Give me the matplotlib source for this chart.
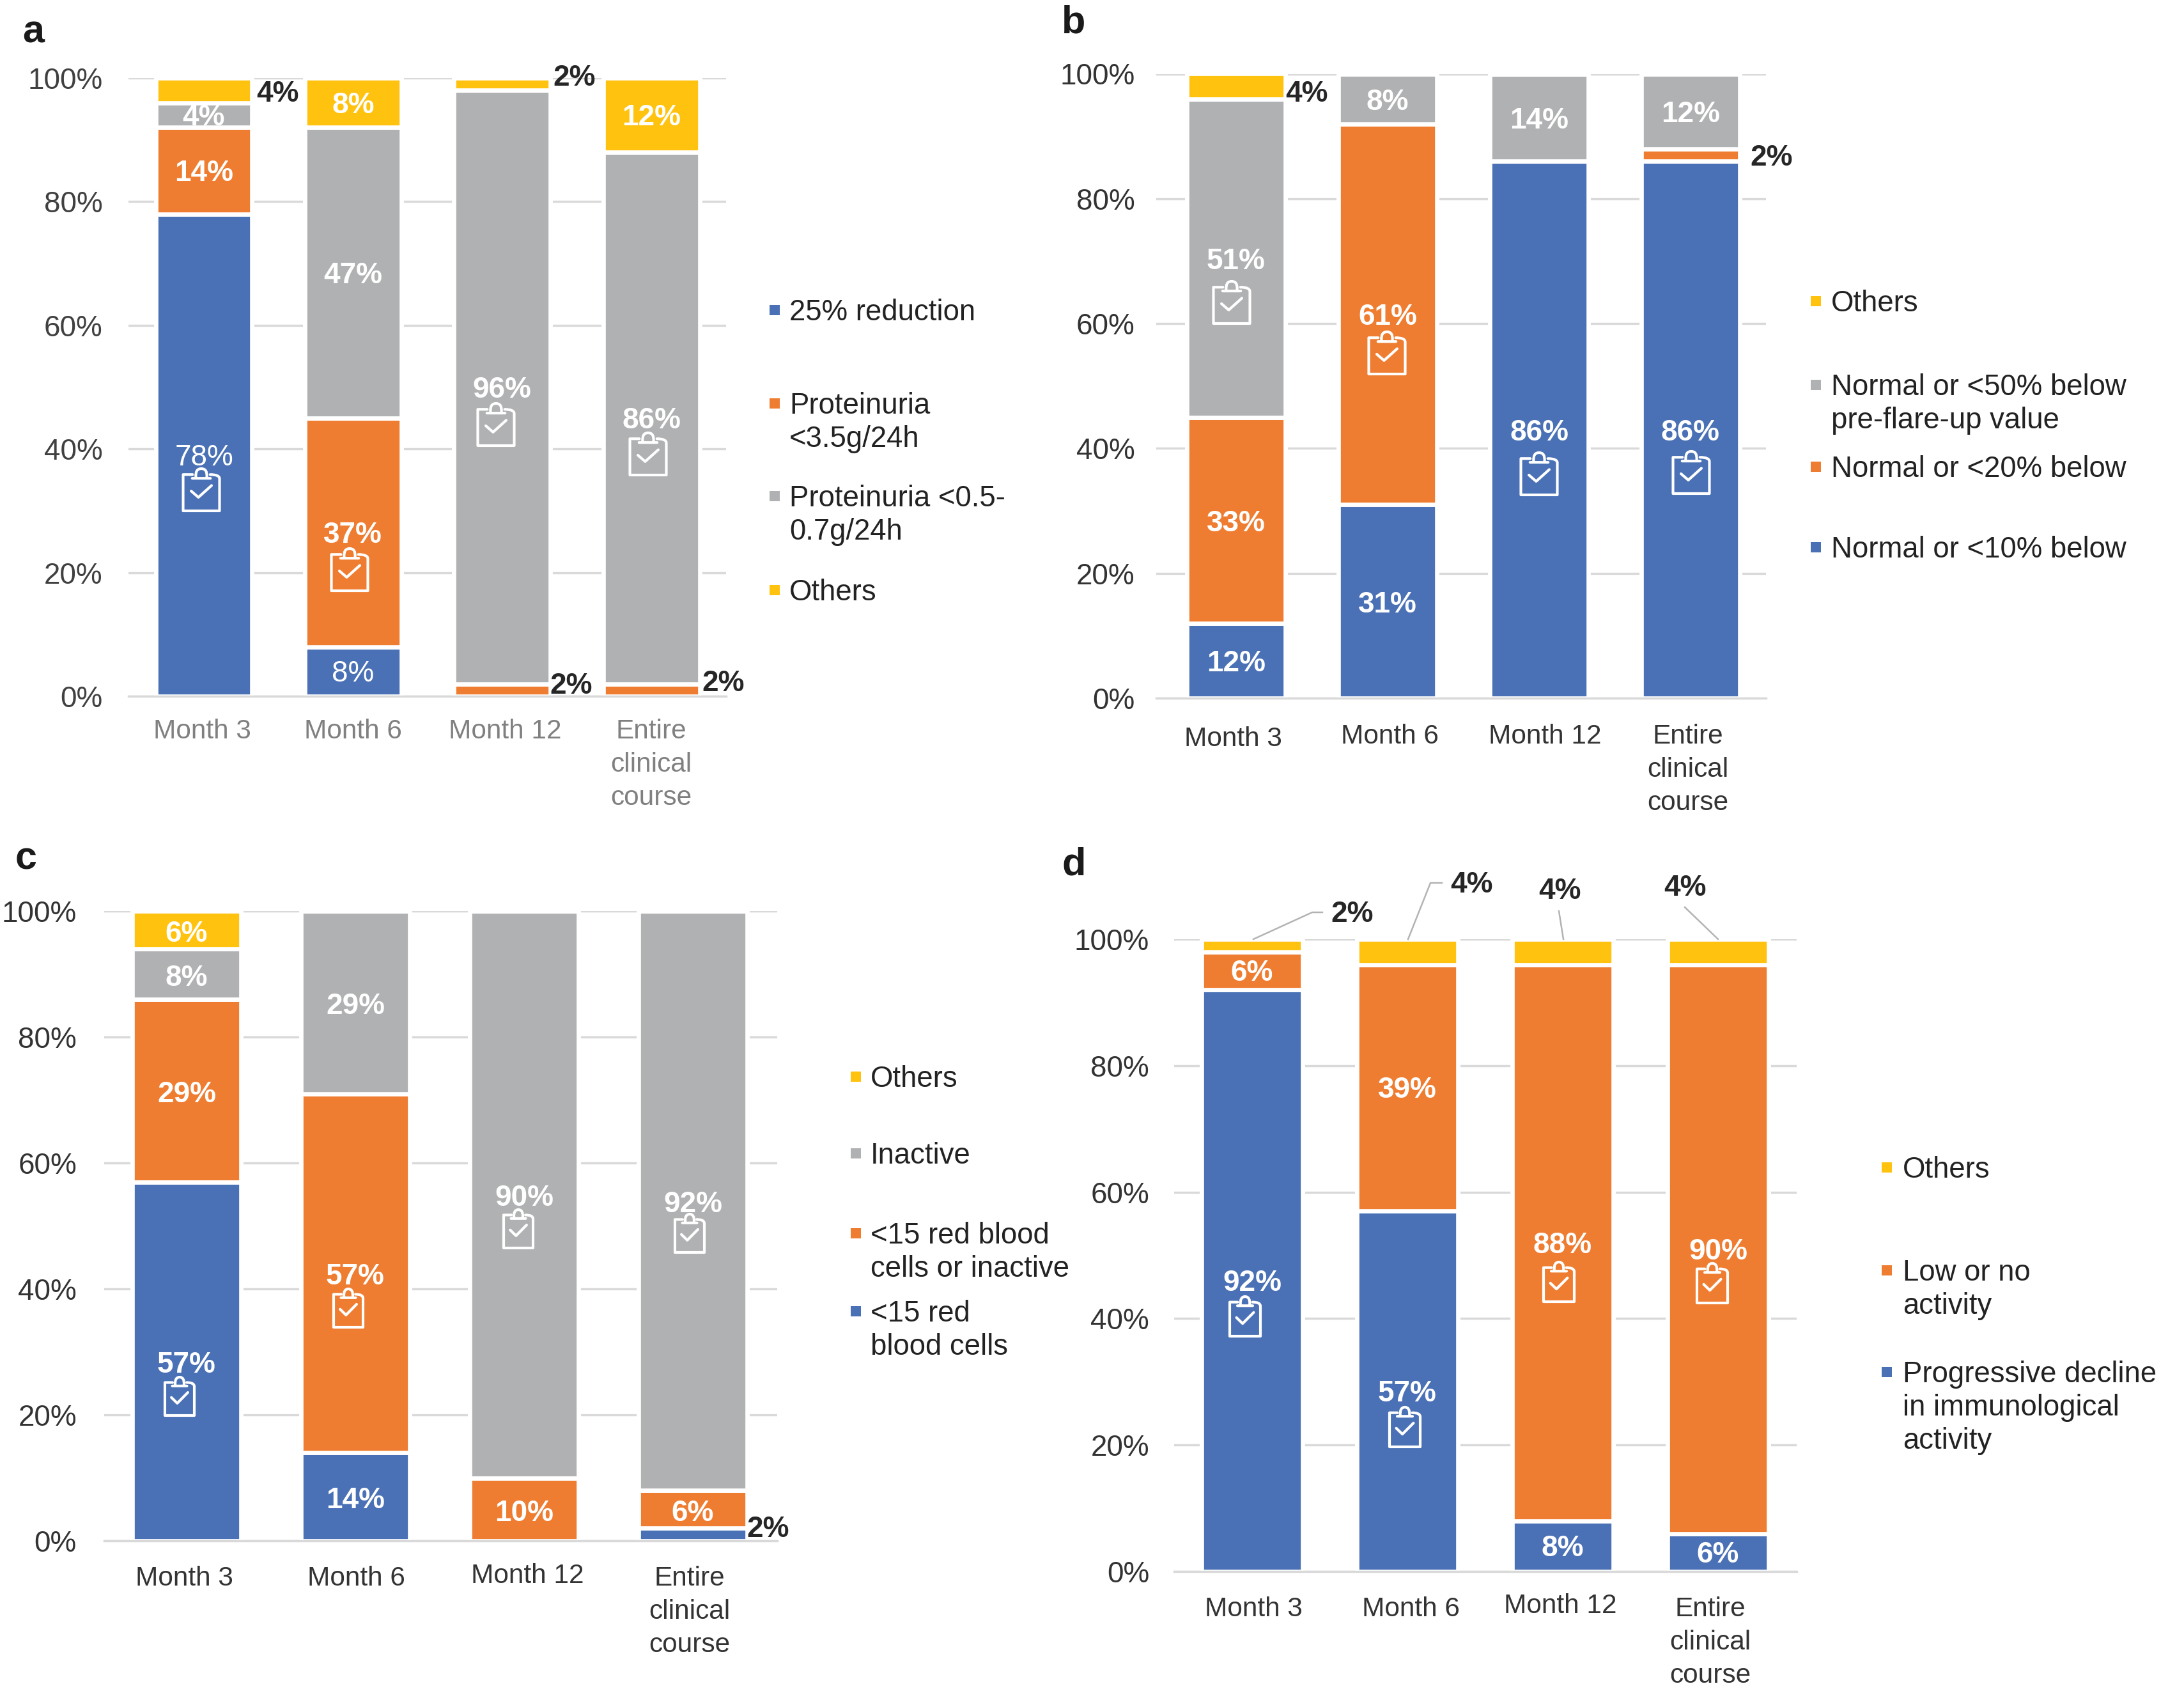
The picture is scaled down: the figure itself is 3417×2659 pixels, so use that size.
import numpy as np
import matplotlib
matplotlib.use("Agg")
import matplotlib.pyplot as plt
from matplotlib.lines import Line2D
from matplotlib.patches import PathPatch, Rectangle
from matplotlib.path import Path
from matplotlib.transforms import Affine2D, IdentityTransform

plt.rcParams['font.family'] = ['Liberation Sans', 'DejaVu Sans']

W, H = 3417, 2659
BLUE, ORANGE, GRAY, YELLOW = '#4A71B5', '#EF7D31', '#B0B1B3', '#FFC20E'
SERIES_COLORS = [BLUE, ORANGE, GRAY, YELLOW]

categories = ['Month 3', 'Month 6', 'Month 12', 'Entire\nclinical\ncourse']
y_ticks = [0, 20, 40, 60, 80, 100]
y_tick_labels = ['0%', '20%', '40%', '60%', '80%', '100%']

# percent of patients, series order is blue, orange, gray, yellow
a_blue = [78, 8, 0, 0]
a_orange = [14, 37, 2, 2]
a_gray = [4, 47, 96, 86]
a_yellow = [4, 8, 2, 12]

b_blue = [12, 31, 86, 86]
b_orange = [33, 61, 0, 2]
b_gray = [51, 8, 14, 12]
b_yellow = [4, 0, 0, 0]

c_blue = [57, 14, 0, 2]
c_orange = [29, 57, 10, 6]
c_gray = [8, 29, 90, 92]
c_yellow = [6, 0, 0, 0]

d_blue = [92, 57, 8, 6]
d_orange = [6, 39, 88, 90]
d_gray = [0, 0, 0, 0]
d_yellow = [2, 4, 4, 4]

a_legend = ['25% reduction', 'Proteinuria\n<3.5g/24h', 'Proteinuria <0.5-\n0.7g/24h', 'Others']
b_legend = ['Others', 'Normal or <50% below\npre-flare-up value', 'Normal or <20% below', 'Normal or <10% below']
c_legend = ['Others', 'Inactive', '<15 red blood\ncells or inactive', '<15 red\nblood cells']
d_legend = ['Others', 'Low or no\nactivity', 'Progressive decline\nin immunological\nactivity']

fig = plt.figure(figsize=(W / 100, H / 100), dpi=100, facecolor='white')


def clipboard(cx, cy, w, h):
    # little clipboard icon, px coords from top left
    def P(u, v):
        return (cx + u * w, H - (cy + v * h))
    body = Path([P(-0.24, -0.36), P(-0.5, -0.36), P(-0.5, -0.26), P(-0.5, 0.42), P(-0.5, 0.5), P(-0.4, 0.5),
                 P(0.4, 0.5), P(0.5, 0.5), P(0.5, 0.42), P(0.5, -0.26), P(0.5, -0.36), P(0.24, -0.36)],
                [1, 2, 3, 3, 2, 3, 3, 2, 3, 3, 3, 2])
    head = Path([P(-0.25, -0.27), P(0.25, -0.27), P(0.15, -0.3), P(0.17, -0.5), P(0, -0.5), P(-0.17, -0.5), P(-0.15, -0.3)],
                [1, 2, 1, 3, 3, 3, 3])
    check = Path([P(-0.28, 0.03), P(-0.08, 0.18), P(0.28, -0.1)], [1, 2, 2])
    for p in (body, head, check):
        fig.add_artist(PathPatch(p, fc='none', ec='white', lw=3, capstyle='round', joinstyle='round',
                                 transform=IdentityTransform(), zorder=10))


def panel(letter, letter_xy, box, c0, step, bar_w, series, offsets, thin, icons, icon_size,
          tick_dx, tick_dy, y_pad, x_pad, tick_color, ytick_color, label_dy):
    x0, x1, y100, y0 = box
    ax = fig.add_axes([x0 / W, 1 - y0 / H, (x1 - x0) / W, (y0 - y100) / H])
    ax.set_xlim((x0 - c0) / step, (x1 - c0) / step)
    ax.set_ylim(0, 100)
    x = np.arange(len(categories))

    # white knockout so the grid stops short of each bar
    ax.bar(x, [100] * 4, width=(bar_w + 6.7) / step, color='white', edgecolor='white', lw=4.8,
           zorder=1, clip_on=False)
    bottom = np.zeros(4)
    for s, (vals, col) in enumerate(zip(series, SERIES_COLORS)):
        ax.bar(x, vals, bottom=bottom, width=(bar_w + 6.7) / step, color=col, edgecolor='white', lw=4.8,
               zorder=2, clip_on=False)
        for i, v in enumerate(vals):
            if v == 0:
                continue
            dx, dy = offsets.get((i, s), (0, 0))
            outside = (i, s) in offsets
            weight = 'normal' if (i, s) in thin else 'bold'
            ax.annotate(f'{v}%', xy=(i, bottom[i] + v / 2), xytext=(dx, dy + label_dy), textcoords='offset pixels',
                        ha='center', va='center', fontsize=33, fontweight=weight,
                        color='#262626' if outside else 'white', zorder=6, annotation_clip=False)
        bottom += np.array(vals)

    ax.set_yticks(y_ticks, y_tick_labels)
    ax.set_xticks(x, categories)
    ax.set_axisbelow(True)
    ax.grid(axis='y', color='#D9D9D9', lw=2.5)
    ax.grid(axis='x', visible=False)
    for name in ('top', 'left', 'right'):
        ax.spines[name].set_visible(False)
    ax.spines['bottom'].set_color('#D9D9D9')
    ax.spines['bottom'].set_linewidth(2.5)
    ax.tick_params(axis='y', length=0, labelsize=33, pad=y_pad, labelcolor=ytick_color)
    ax.tick_params(axis='x', length=0, labelsize=30.5, pad=x_pad, labelcolor=tick_color)
    for lab, dx, dy in zip(ax.get_xticklabels(), tick_dx, tick_dy):
        lab.set_linespacing(1.39)
        lab.set_transform(lab.get_transform() + Affine2D().translate(dx, dy))

    for cx, cy in icons:
        clipboard(cx, cy, *icon_size)
    fig.text(letter_xy[0] / W, 1 - letter_xy[1] / H, letter, fontsize=44, fontweight='bold',
             color='#1a1a1a', ha='center', va='center')
    return ax


def legend(mark_x, text_x, items, ys, colors):
    for label, y, col in zip(items, ys, colors):
        fig.add_artist(Rectangle((mark_x / W, 1 - (y + 8) / H), 16 / W, 16 / H, color=col,
                                 transform=fig.transFigure, lw=0))
        for k, line in enumerate(label.split('\n')):
            fig.text(text_x / W, 1 - (y + 16 + 52 * k) / H, line, fontsize=32.8, color='#222222',
                     ha='left', va='baseline')


panel('a', (52, 51), (201, 1136, 122, 1089), 319, 233.4, 144, [a_blue, a_orange, a_gray, a_yellow],
      {(0, 3): (115, -2), (2, 3): (113, 14), (2, 1): (108, 10), (3, 1): (112, 14)},
      {(0, 0), (1, 0)},
      [(315, 766), (547, 891), (776, 664), (1014, 710)], (57, 66),
      [-3, 0, 4, 0], [0, 0, 0, 0], 29, 25, '#808080', '#404040', -4)

panel('b', (1680, 36), (1809, 2763, 115.5, 1092), 1934, 237, 147, [b_blue, b_orange, b_gray, b_yellow],
      {(0, 3): (110, -7), (3, 1): (127, 0)},
      set(),
      [(1927, 473), (2170, 552), (2408, 741), (2646, 739)], (57, 66),
      [-5, 3, 9, -4], [-4, 0, 0, 0], 24, 29, '#333333', '#333333', -5)

panel('c', (41, 1344), (163, 1216, 1425, 2410), 292, 264, 164, [c_blue, c_orange, c_gray, c_yellow],
      {(3, 0): (118, 14)},
      set(),
      [(281, 2184), (545, 2046), (811, 1922), (1079, 1929)], (46, 60),
      [-4, 1, 5, -5], [0, 0, 4, 0], 31, 28, '#333333', '#333333', -6)

panel('d', (1680, 1353), (1837, 2811, 1469, 2458), 1959, 243, 152, [d_blue, d_orange, d_gray, d_yellow],
      {(0, 3): (157, 53), (1, 3): (101, 109), (2, 3): (-5, 99), (3, 3): (-52, 104)},
      set(),
      [(1948, 2059), (2198, 2232), (2439, 2005), (2679, 2007)], (48, 62),
      [2, 5, -4, -12], [0, 0, 5, 0], 28, 28, '#333333', '#333333', -4)

legend(1204, 1235, a_legend, [485, 631, 776, 923], [BLUE, ORANGE, GRAY, YELLOW])
legend(2833, 2865, b_legend, [471, 602, 730, 856], [YELLOW, GRAY, ORANGE, BLUE])
legend(1331, 1362, c_legend, [1684, 1804, 1929, 2051], [YELLOW, GRAY, ORANGE, BLUE])
legend(2944, 2977, d_legend, [1826, 1987, 2146], [YELLOW, ORANGE, BLUE])

# leader lines in panel d
leaders = [[(1961, 1469), (2053, 1427), (2069, 1427)],
           [(2203, 1469), (2238, 1381), (2256, 1381)],
           [(2446, 1469), (2439, 1425)],
           [(2688, 1469), (2636, 1419)]]
for pts in leaders:
    xs = [p[0] / W for p in pts]
    ys = [1 - p[1] / H for p in pts]
    fig.add_artist(Line2D(xs, ys, color='#B3B3B3', lw=1.8, transform=fig.transFigure))

fig.savefig('out.png', dpi=100, facecolor='white')
